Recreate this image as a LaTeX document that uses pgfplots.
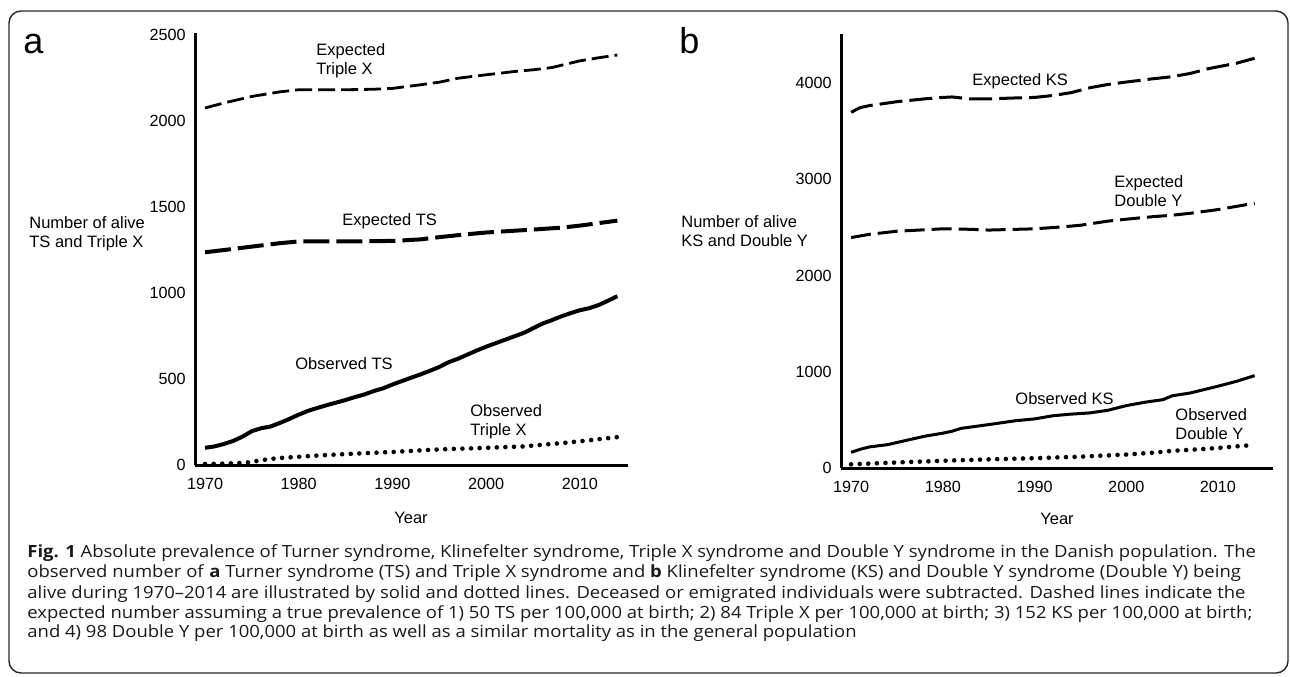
\documentclass[border=0pt]{standalone}
\usepackage{fontspec}
\setmainfont{Liberation Sans}
\newfontfamily\capfont[FakeStretch=1.1]{Open Sans}
\usepackage{pgfplots}
\usepackage{pgfplotstable}
\pgfplotsset{compat=1.18}

\pgfplotstableread{
year val
1970 2076
1972 2105
1975 2143
1978 2170
1980 2182
1983 2182
1985 2182
1988 2185
1990 2190
1993 2211
1995 2226
1997 2249
2000 2269
2003 2288
2005 2298
2007 2311
2010 2350
2012 2368
2014 2384
}\expTX
\pgfplotstableread{
year val
1970 1237
1972 1250
1975 1270
1978 1290
1980 1300
1985 1300
1990 1303
1993 1312
1995 1325
1998 1342
2000 1352
2005 1369
2008 1380
2010 1392
2014 1421
}\expTS
\pgfplotstableread{
year val
1970 100
1971 108
1972 122
1973 140
1974 165
1975 197
1976 214
1977 224
1978 245
1979 268
1980 293
1981 315
1982 332
1983 348
1984 363
1985 378
1986 395
1987 410
1988 430
1989 446
1990 468
1991 488
1992 508
1993 527
1994 548
1995 570
1996 598
1997 618
1998 642
1999 666
2000 688
2001 708
2002 728
2003 748
2004 768
2005 795
2006 822
2007 842
2008 864
2009 883
2010 900
2011 912
2012 930
2013 955
2014 982
}\obsTS
\pgfplotstableread{
year val
1970 6
1972 8
1974 12
1975 18
1976 28
1977 35
1978 41
1980 48
1982 55
1984 61
1986 66
1988 71
1990 76
1992 82
1994 88
1996 93
1998 96
2000 100
2002 104
2004 108
2006 118
2008 127
2010 138
2012 150
2014 162
}\obsTX
\pgfplotstableread{
year val
1970 3695
1971 3745
1972 3765
1975 3806
1978 3835
1980 3850
1981 3855
1983 3835
1985 3835
1988 3845
1990 3850
1992 3870
1994 3900
1996 3950
1998 3985
2000 4010
2003 4045
2005 4065
2007 4100
2009 4150
2012 4205
2014 4257
}\expKS
\pgfplotstableread{
year val
1970 2394
1972 2428
1975 2460
1980 2485
1983 2480
1985 2472
1990 2485
1993 2505
1995 2522
1998 2565
2000 2585
2003 2612
2005 2626
2007 2647
2010 2685
2014 2751
}\expDY
\pgfplotstableread{
year val
1970 163
1971 195
1972 219
1974 243
1975 265
1978 330
1980 362
1981 382
1982 412
1985 451
1988 492
1990 510
1992 543
1994 560
1996 572
1998 600
2000 648
2002 683
2004 710
2005 750
2007 780
2010 850
2012 900
2014 960
}\obsKS
\pgfplotstableread{
year val
1970 38
1975 58
1980 75
1985 90
1990 102
1995 118
2000 140
2003 160
2005 178
2008 195
2010 208
2012 225
2014 240
}\obsDY

\pgfplotsset{
  panel/.style={
    scale only axis,
    axis lines=left,
    axis line style={line width=1.5pt,-},
    major tick length=0pt,
    tick style={draw=none},
    xtick={1970,1980,1990,2000,2010},
    /pgf/number format/1000 sep={},
    /pgf/number format/assume math mode=true,
    tick label style={font=\fontsize{8.1}{9.7}\selectfont, inner sep=0pt, text=black},
    xticklabel style={anchor=north, yshift=-6.5pt},
    yticklabel style={anchor=east, xshift=-4.5pt},
    clip=false,
  },
  expA/.style={black, line width=1.4pt, dash pattern=on 8.5pt off 3pt, line join=round},
  expB/.style={black, line width=2pt, dash pattern=on 13pt off 3.5pt, line join=round},
  solidA/.style={black, line width=2pt, line join=round},
  solidB/.style={black, line width=1.5pt, line join=round},
  dotted/.style={black, line width=2.3pt, line cap=round, dash pattern=on 0pt off 4.3pt},
}

\newcommand{\lf}{\fontsize{8.25}{9.7}\selectfont}

\begin{document}
\begin{tikzpicture}
\useasboundingbox (0,0) rectangle (645pt,-338pt);
\draw[line width=0.7pt, black!85, rounded corners=6pt] (4.5pt,-5.5pt) rectangle (644pt,-336.5pt);

% panel labels
\node[anchor=base west, inner sep=0pt, font=\fontsize{18}{20}\selectfont] at (11.5pt,-26.5pt) {a};
\node[anchor=base west, inner sep=0pt, font=\fontsize{18}{20}\selectfont] at (339.5pt,-26.5pt) {b};

% panel a
\begin{axis}[panel, at={(97.5pt,-232.5pt)}, anchor=south west,
  width=216.5pt, height=216pt,
  xmin=1968.93, xmax=2015.14, ymin=0, ymax=2512,
  ytick={0,500,1000,1500,2000,2500}]
\addplot[expA] table[x=year,y=val] {\expTX};
\addplot[expB] table[x=year,y=val] {\expTS};
\addplot[solidA] table[x=year,y=val] {\obsTS};
\addplot[dotted] table[x=year,y=val] {\obsTX};
\end{axis}

% panel b
\begin{axis}[panel, at={(420.5pt,-234pt)}, anchor=south west,
  width=216pt, height=217pt,
  xmin=1968.9, xmax=2016.0, ymin=0, ymax=4509,
  ytick={0,1000,2000,3000,4000}]
\addplot[expA, line width=1.5pt, dash pattern=on 11.5pt off 3.5pt] table[x=year,y=val] {\expKS};
\addplot[expA, line width=1.5pt, dash pattern=on 10pt off 3.5pt] table[x=year,y=val] {\expDY};
\addplot[solidB] table[x=year,y=val] {\obsKS};
\addplot[dotted] table[x=year,y=val] {\obsDY};
\end{axis}

\begin{scope}[every node/.style={anchor=base west, inner sep=0pt, font=\lf}]
% axis titles
\node at (14.5pt,-114pt) {Number of alive};
\node at (14.5pt,-123.5pt) {TS and Triple X};
\node at (340.5pt,-113.5pt) {Number of alive};
\node at (340.5pt,-123pt) {KS and Double Y};
% curve labels a
\node at (158pt,-27.5pt) {Expected};
\node at (158pt,-37pt) {Triple X};
\node at (171pt,-112.5pt) {Expected TS};
\node at (147.5pt,-184.5pt) {Observed TS};
\node at (235pt,-208pt) {Observed};
\node at (235pt,-217.5pt) {Triple X};
% curve labels b
\node at (486pt,-42.5pt) {Expected KS};
\node at (557pt,-93.5pt) {Expected};
\node at (557pt,-103pt) {Double Y};
\node at (507.5pt,-202pt) {Observed KS};
\node at (587.5pt,-210pt) {Observed};
\node at (587.5pt,-219.5pt) {Double Y};
\end{scope}
\node[anchor=center, inner sep=0pt, font=\lf] at (205.5pt,-259pt) {Year};
\node[anchor=center, inner sep=0pt, font=\lf] at (528.5pt,-259.5pt) {Year};

% caption
\begin{scope}[every node/.style={anchor=base west, inner sep=0pt, font=\capfont\fontsize{8.4}{10}\selectfont, text=black!90}]
\node at (13.5pt,-278.5pt) {\textbf{Fig. 1} Absolute prevalence of Turner syndrome, Klinefelter syndrome, Triple X syndrome and Double Y syndrome in the Danish population. The};
\node at (13.5pt,-288.5pt) {observed number of \textbf{a} Turner syndrome (TS) and Triple X syndrome and \textbf{b} Klinefelter syndrome (KS) and Double Y syndrome (Double Y) being};
\node at (13.5pt,-299pt) {alive during 1970–2014 are illustrated by solid and dotted lines. Deceased or emigrated individuals were subtracted. Dashed lines indicate the};
\node at (13.5pt,-309pt) {expected number assuming a true prevalence of 1) 50 TS per 100,000 at birth; 2) 84 Triple X per 100,000 at birth; 3) 152 KS per 100,000 at birth;};
\node at (13.5pt,-318.5pt) {and 4) 98 Double Y per 100,000 at birth as well as a similar mortality as in the general population};
\end{scope}
\end{tikzpicture}
\end{document}
